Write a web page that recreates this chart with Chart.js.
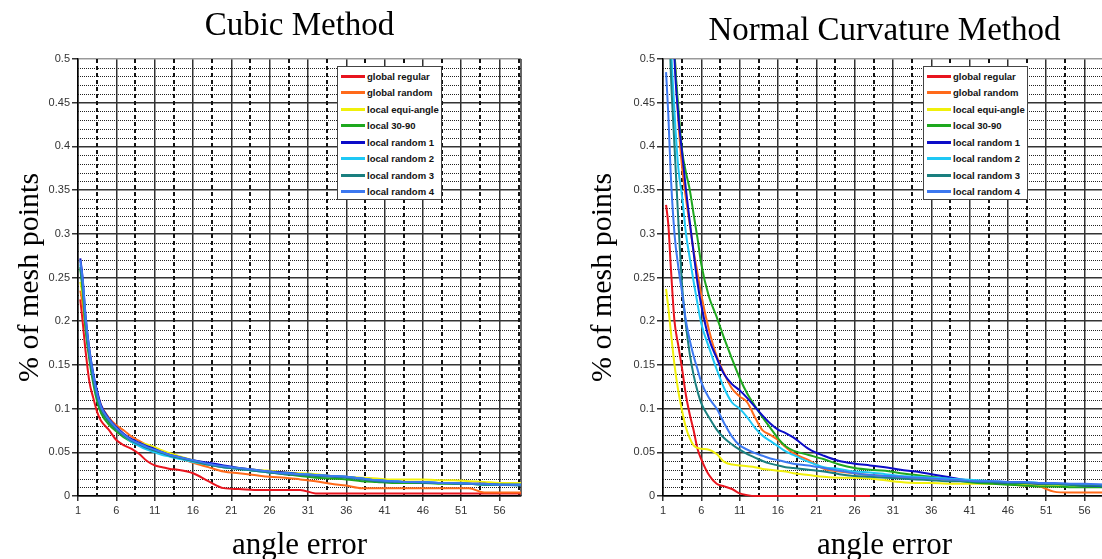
<!DOCTYPE html>
<html>
<head>
<meta charset="utf-8">
<script src="https://cdn.jsdelivr.net/npm/chart.js@4.4.1/dist/chart.umd.min.js"></script>
<style>
  html, body { margin: 0; padding: 0; background: #fff; }
  body { width: 1102px; height: 559px; overflow: hidden; position: relative; }
  .wrap { position: absolute; top: 0; width: 540px; height: 559px; }
  .legend { position: absolute; top: 66px; width: 105px; height: 134px; box-sizing: border-box;
            border: 1px solid #444; background: #fff; padding: 1px 0 0 3px;
            font: bold 9.5px "Liberation Sans", Arial, sans-serif; color: #111; }
  .legend .row { height: 16.5px; display: flex; align-items: center; white-space: nowrap; }
  .legend .sw { width: 24px; height: 3px; margin-right: 2px; flex: none; }
</style>
</head>
<body>
<div class="wrap" style="left:0"><canvas id="cubicChart"></canvas></div>
<div class="wrap" style="left:585px"><canvas id="normalChart"></canvas></div>
<div class="legend" id="cubicLegend" style="left:337px"></div>
<div class="legend" id="normalLegend" style="left:923px"></div>
<script>
// series names / colours (legend order)
const seriesNames = ["global regular", "global random", "local equi-angle", "local 30-90",
                     "local random 1", "local random 2", "local random 3", "local random 4"];
const seriesColors = ["#e8141e", "#ff6a1a", "#f0f00a", "#1ea81e", "#0c0cc8", "#1ec8f5", "#1a7f7f", "#3c78f0"];

const xTicks = [1, 6, 11, 16, 21, 26, 31, 36, 41, 46, 51, 56];

// ---- Cubic Method ----
const cubicX = [1.3, 1.6, 2, 2.5, 3, 3.5, 4, 5, 6, 7, 8, 9, 10, 11, 12, 13, 14, 16, 18, 20,
                22, 24, 26, 28, 30, 32, 34, 36, 38, 40, 42, 44, 46, 48, 50, 52, 54, 56, 58.8];
const cubicRegular = [0.225, 0.20, 0.165, 0.13, 0.112, 0.096, 0.086, 0.076, 0.064, 0.058,
                      0.054, 0.048, 0.040, 0.035, 0.033, 0.031, 0.030, 0.026, 0.017, 0.009,
                      0.008, 0.007, 0.007, 0.007, 0.007, 0.003, 0.003, 0.003, 0.003, 0.003,
                      0.003, 0.003, 0.003, 0.003, 0.003, 0.003, 0.003, 0.003, 0.003];
const cubicRandom = [0.235, 0.22, 0.19, 0.16, 0.135, 0.118, 0.104, 0.090, 0.081, 0.075,
                     0.068, 0.063, 0.058, 0.055, 0.051, 0.047, 0.044, 0.038, 0.033, 0.028,
                     0.026, 0.024, 0.022, 0.021, 0.019, 0.017, 0.014, 0.012, 0.009, 0.009,
                     0.009, 0.009, 0.009, 0.009, 0.009, 0.009, 0.004, 0.004, 0.004];
const cubicEqui = [0.245, 0.23, 0.195, 0.16, 0.134, 0.115, 0.100, 0.085, 0.075, 0.069,
                   0.064, 0.061, 0.059, 0.056, 0.052, 0.049, 0.046, 0.041, 0.037, 0.034,
                   0.032, 0.030, 0.029, 0.027, 0.026, 0.025, 0.023, 0.022, 0.021, 0.020,
                   0.019, 0.019, 0.019, 0.018, 0.018, 0.017, 0.016, 0.015, 0.015];
const cubic3090 = [0.26, 0.235, 0.19, 0.155, 0.128, 0.108, 0.095, 0.082, 0.074, 0.067,
                   0.062, 0.058, 0.055, 0.052, 0.049, 0.046, 0.044, 0.040, 0.036, 0.033,
                   0.031, 0.029, 0.027, 0.025, 0.023, 0.021, 0.020, 0.019, 0.017, 0.016,
                   0.015, 0.015, 0.015, 0.014, 0.014, 0.014, 0.013, 0.013, 0.013];
const cubicRand1 = [0.272, 0.25, 0.205, 0.167, 0.14, 0.12, 0.104, 0.089, 0.079, 0.071,
                    0.065, 0.061, 0.057, 0.054, 0.050, 0.047, 0.045, 0.041, 0.038, 0.035,
                    0.032, 0.030, 0.028, 0.027, 0.025, 0.024, 0.023, 0.022, 0.020, 0.018,
                    0.017, 0.016, 0.016, 0.015, 0.015, 0.014, 0.014, 0.013, 0.013];
const cubicRand2 = [0.265, 0.245, 0.20, 0.162, 0.135, 0.115, 0.101, 0.086, 0.077, 0.069,
                    0.062, 0.057, 0.053, 0.050, 0.047, 0.045, 0.043, 0.039, 0.036, 0.033,
                    0.031, 0.029, 0.027, 0.026, 0.025, 0.024, 0.023, 0.022, 0.020, 0.018,
                    0.017, 0.016, 0.016, 0.015, 0.015, 0.014, 0.013, 0.013, 0.013];
const cubicRand3 = [0.262, 0.24, 0.198, 0.16, 0.133, 0.113, 0.099, 0.085, 0.076, 0.069,
                    0.063, 0.059, 0.055, 0.052, 0.049, 0.046, 0.044, 0.040, 0.036, 0.033,
                    0.031, 0.029, 0.027, 0.025, 0.024, 0.023, 0.022, 0.021, 0.019, 0.017,
                    0.016, 0.016, 0.015, 0.015, 0.014, 0.014, 0.013, 0.013, 0.012];
const cubicRand4 = [0.27, 0.248, 0.203, 0.165, 0.138, 0.117, 0.102, 0.088, 0.078, 0.070,
                    0.064, 0.060, 0.056, 0.053, 0.050, 0.047, 0.045, 0.041, 0.037, 0.034,
                    0.032, 0.030, 0.028, 0.026, 0.025, 0.024, 0.023, 0.022, 0.020, 0.018,
                    0.017, 0.016, 0.016, 0.015, 0.015, 0.014, 0.014, 0.013, 0.013];

// ---- Normal Curvature Method ----
const normalX = [1.4, 1.7, 2, 2.5, 3, 3.5, 4, 4.5, 5, 5.5, 6, 7, 8, 9, 10, 11, 12, 13, 14, 15,
                 16, 17, 18, 20, 22, 24, 26, 28, 30, 32, 34, 36, 38, 40, 42, 44, 46, 48, 50, 52,
                 54, 56, 58.8];
const normalRegular = [0.333, 0.31, 0.265, 0.20, 0.172, 0.145, 0.115, 0.093, 0.075, 0.054,
                       0.042, 0.024, 0.014, 0.011, 0.008, 0.003, 0.001, 0, 0, 0,
                       0, 0, 0, 0, 0, 0, 0, 0, null, null,
                       null, null, null, null, null, null, null, null, null, null,
                       null, null, null];
const normalRandom = [0.85, 0.74, 0.62, 0.51, 0.43, 0.375, 0.34, 0.31, 0.28, 0.255,
                      0.23, 0.19, 0.16, 0.14, 0.123, 0.114, 0.107, 0.09, 0.075, 0.070,
                      0.064, 0.056, 0.049, 0.041, 0.031, 0.028, 0.026, 0.024, 0.023, 0.021,
                      0.020, 0.019, 0.019, 0.018, 0.017, 0.016, 0.014, 0.012, 0.011, 0.005,
                      0.004, 0.004, 0.004];
const normalEqui = [0.237, 0.215, 0.19, 0.15, 0.12, 0.097, 0.078, 0.066, 0.058, 0.055,
                    0.054, 0.053, 0.048, 0.039, 0.036, 0.035, 0.034, 0.033, 0.031, 0.030,
                    0.029, 0.028, 0.026, 0.024, 0.022, 0.021, 0.021, 0.020, 0.018, 0.016,
                    0.015, 0.015, 0.014, 0.014, 0.014, 0.014, 0.014, 0.013, 0.013, 0.013,
                    0.012, 0.012, 0.012];
const normal3090 = [0.9, 0.78, 0.65, 0.51, 0.445, 0.395, 0.37, 0.35, 0.322, 0.295,
                    0.265, 0.228, 0.205, 0.180, 0.157, 0.135, 0.117, 0.103, 0.090, 0.078,
                    0.066, 0.057, 0.052, 0.047, 0.042, 0.036, 0.032, 0.030, 0.029, 0.026,
                    0.024, 0.022, 0.020, 0.017, 0.015, 0.014, 0.013, 0.012, 0.011, 0.011,
                    0.010, 0.010, 0.010];
const normalRand1 = [0.9, 0.78, 0.65, 0.50, 0.435, 0.392, 0.35, 0.313, 0.278, 0.244,
                     0.218, 0.18, 0.158, 0.139, 0.128, 0.121, 0.112, 0.102, 0.092, 0.083,
                     0.076, 0.072, 0.067, 0.054, 0.046, 0.040, 0.037, 0.035, 0.033, 0.030,
                     0.028, 0.025, 0.022, 0.019, 0.017, 0.016, 0.015, 0.015, 0.014, 0.014,
                     0.013, 0.012, 0.011];
const normalRand2 = [0.8, 0.65, 0.53, 0.44, 0.375, 0.342, 0.30, 0.272, 0.245, 0.22,
                     0.197, 0.17, 0.145, 0.123, 0.107, 0.100, 0.090, 0.078, 0.069, 0.063,
                     0.057, 0.051, 0.047, 0.039, 0.033, 0.031, 0.028, 0.027, 0.025, 0.023,
                     0.022, 0.021, 0.020, 0.019, 0.018, 0.017, 0.016, 0.016, 0.015, 0.014,
                     0.013, 0.013, 0.012];
const normalRand3 = [0.7, 0.58, 0.49, 0.40, 0.315, 0.24, 0.195, 0.162, 0.138, 0.12,
                     0.106, 0.09, 0.076, 0.066, 0.059, 0.053, 0.048, 0.044, 0.040, 0.037,
                     0.035, 0.033, 0.032, 0.030, 0.028, 0.025, 0.023, 0.022, 0.021, 0.020,
                     0.019, 0.018, 0.017, 0.017, 0.016, 0.016, 0.015, 0.015, 0.014, 0.014,
                     0.013, 0.012, 0.012];
const normalRand4 = [0.485, 0.435, 0.37, 0.30, 0.262, 0.232, 0.20, 0.178, 0.16, 0.145,
                     0.13, 0.112, 0.100, 0.083, 0.068, 0.058, 0.053, 0.049, 0.046, 0.043,
                     0.041, 0.039, 0.037, 0.035, 0.032, 0.029, 0.026, 0.024, 0.023, 0.022,
                     0.021, 0.020, 0.019, 0.018, 0.017, 0.017, 0.016, 0.016, 0.015, 0.015,
                     0.014, 0.014, 0.013];

const cubicSeries = [cubicRegular, cubicRandom, cubicEqui, cubic3090, cubicRand1, cubicRand2, cubicRand3, cubicRand4];
const normalSeries = [normalRegular, normalRandom, normalEqui, normal3090, normalRand1, normalRand2, normalRand3, normalRand4];

// dotted minor lines every 0.01, dashed verticals halfway between the x ticks
const minorGrid = {
    id: "minorGrid",
    beforeDatasetsDraw(chart) {
        const { ctx, chartArea: a, scales: { x, y } } = chart;
        ctx.save();
        ctx.strokeStyle = "#222";
        ctx.lineWidth = 1;
        ctx.setLineDash([1, 1]);
        for (let i = 1; i < 50; i++) {
            if (i % 5 === 0) continue;
            const py = Math.round(y.getPixelForValue(i / 100)) + 0.5;
            ctx.beginPath();
            ctx.moveTo(a.left, py);
            ctx.lineTo(a.right, py);
            ctx.stroke();
        }
        ctx.lineWidth = 2;
        ctx.strokeStyle = "#111";
        ctx.setLineDash([4, 3]);
        for (let v = 3.5; v < x.max; v += 5) {
            const px = Math.round(x.getPixelForValue(v));
            ctx.beginPath();
            ctx.moveTo(px, a.top);
            ctx.lineTo(px, a.bottom);
            ctx.stroke();
        }
        // right frame line
        ctx.setLineDash([]);
        ctx.lineWidth = 1.5;
        ctx.strokeStyle = "#333";
        ctx.beginPath();
        ctx.moveTo(a.right, a.top);
        ctx.lineTo(a.right, a.bottom);
        ctx.stroke();
        ctx.restore();
    }
};

function makeChart(canvasId, title, titlePad, yTitlePad, xs, series) {
    const datasets = series.map((ys, i) => ({
        label: seriesNames[i],
        data: xs.map((x, j) => ({ x: x, y: ys[j] })),
        borderColor: seriesColors[i],
        borderWidth: 2,
        pointRadius: 0,
        cubicInterpolationMode: "monotone",
        clip: { left: 0, top: 0, right: 0, bottom: 3 },
        order: -i
    }));

    return new Chart(document.getElementById(canvasId), {
        type: "line",
        data: { datasets: datasets },
        options: {
            responsive: true,
            maintainAspectRatio: false,
            animation: false,
            layout: { padding: { left: 0, right: 19, top: 0, bottom: 0 } },
            plugins: {
                legend: { display: false },
                tooltip: { enabled: false },
                title: {
                    display: true,
                    text: title,
                    fullSize: false,
                    color: "#000",
                    font: { family: "Liberation Serif", size: 33, weight: "normal", lineHeight: 1 },
                    padding: titlePad
                }
            },
            scales: {
                x: {
                    type: "linear",
                    min: 1,
                    max: 58.8,
                    afterBuildTicks: s => { s.ticks = xTicks.map(v => ({ value: v })); },
                    afterFit: s => { s.height = 63; },
                    ticks: { color: "#333", font: { family: "Liberation Sans", size: 11 }, padding: 3, maxRotation: 0, callback: v => v },
                    grid: { color: "#333", lineWidth: 1.5, tickLength: 5, tickColor: "#333" },
                    border: { color: "#000", width: 1.5 },
                    title: {
                        display: true,
                        text: "angle error",
                        color: "#000",
                        font: { family: "Liberation Serif", size: 31, lineHeight: 0.85 },
                        padding: { top: 0, bottom: 0 }
                    }
                },
                y: {
                    min: 0,
                    max: 0.5,
                    afterFit: s => { s.width = 78; },
                    ticks: {
                        stepSize: 0.05,
                        color: "#333",
                        font: { family: "Liberation Sans", size: 11 },
                        padding: 2,
                        callback: v => String(Number(v.toFixed(2)))
                    },
                    grid: {
                        color: c => (c.tick && c.tick.value >= 0.499 ? "#999" : "#333"),
                        lineWidth: 1.5,
                        tickLength: 6,
                        tickColor: "#333"
                    },
                    border: { color: "#000", width: 1.5 },
                    title: {
                        display: true,
                        text: "% of mesh points",
                        color: "#000",
                        font: { family: "Liberation Serif", size: 30, lineHeight: 1 },
                        padding: { top: yTitlePad, bottom: 0 }
                    }
                }
            }
        },
        plugins: [minorGrid]
    });
}

function buildLegend(id) {
    const box = document.getElementById(id);
    seriesNames.forEach((name, i) => {
        const row = document.createElement("div");
        row.className = "row";
        const sw = document.createElement("span");
        sw.className = "sw";
        sw.style.background = seriesColors[i];
        const txt = document.createElement("span");
        txt.textContent = name;
        row.appendChild(sw);
        row.appendChild(txt);
        box.appendChild(row);
    });
}

makeChart("cubicChart", "Cubic Method", { top: 10, bottom: 16 }, 15, cubicX, cubicSeries);
makeChart("normalChart", "Normal Curvature Method", { top: 15, bottom: 11 }, 3, normalX, normalSeries);
buildLegend("cubicLegend");
buildLegend("normalLegend");
</script>
</body>
</html>
